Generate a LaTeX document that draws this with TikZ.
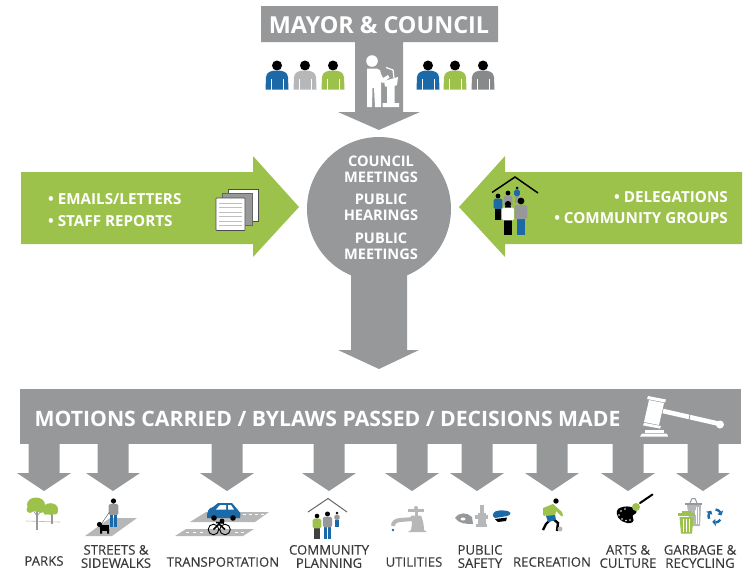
\documentclass[tikz,border=0pt]{standalone}
\usepackage{fontspec}
\setmainfont{Open Sans}
\newfontfamily\labfont[FakeBold=0.25]{Open Sans}
\definecolor{cgray}{HTML}{96989A}
\definecolor{clight}{HTML}{B5B7B9}
\definecolor{cgreen}{HTML}{9DC24B}
\definecolor{cblue}{HTML}{1C69A8}
\definecolor{cdark}{HTML}{3A3A3C}
\newcommand{\mybust}[2]{% x, color
  \fill[black] (#1,65.5) circle (5);
  \fill[#2] (#1-11.5,89.5) -- (#1-11,77) .. controls (#1-10.5,72) and (#1-6,70.5) .. (#1,70.5) .. controls (#1+6,70.5) and (#1+10.5,72) .. (#1+11,77) -- (#1+11.5,89.5) -- cycle;
  \draw[white,line width=.5] (#1-6,79) -- (#1-6,89.5) (#1+6,79) -- (#1+6,89.5);}
% full figure: x, head y, scale, shirt, legs
\newcommand{\fullfig}[5]{%
  \begin{scope}[shift={(#1,#2)},scale=#3]
  \fill[#5] (-3.7,15) rectangle (-.3,30);
  \fill[#5] (.3,15) rectangle (3.7,30);
  \fill[#4,rounded corners=1.5] (-5.6,3.4) rectangle (5.6,16);
  \fill[black] (0,0) circle (3);
  \end{scope}}
\newcommand{\dnarrow}[1]{%
  \fill[cgray] (#1-15.5,444) -- (#1-15.5,473) -- (#1-27,473) -- (#1,491) -- (#1+27,473) -- (#1+15.5,473) -- (#1+15.5,444) -- cycle;}
\tikzset{
  head/.style={font=\fontsize{23.4}{25}\selectfont\bfseries,text=white,inner sep=0},
  circ/.style={font=\fontsize{14.6}{16}\selectfont\bfseries,text=white,inner sep=0,align=center},
  bul/.style={font=\fontsize{15.2}{17}\selectfont\bfseries,text=white,inner sep=0},
  lab/.style={font=\labfont\fontsize{13.2}{13.2}\selectfont,text=cdark,inner sep=0,align=center},
}
\begin{document}
\begin{tikzpicture}[x=1pt,y=-1pt]
\useasboundingbox (0,0) rectangle (746,570);
% top T arrow
\fill[cgray] (261,6) -- (498,6) -- (498,42) -- (403,42) -- (403,112) -- (420,112) -- (379,130) -- (338,112) -- (355,112) -- (355,42) -- (261,42) -- cycle;
\node[head] (mayor) at (379,25) {MAYOR \& COUNCIL};
% people
\mybust{277}{cblue}
\mybust{305}{clight}
\mybust{333}{cgreen}
\mybust{428}{cblue}
\mybust{455}{cgreen}
\mybust{483}{cgray!90!black}
% speaker
\fill[white] (372,61) circle (5.8);
\fill[white] (367,68.5) -- (377,68.5) .. controls (380,69) and (381,71) .. (381,74) -- (383,78) -- (388,75) -- (389.5,77.5) -- (383,83) -- (381,82) -- (381,107) -- (375,107) -- (374,88) -- (372.5,88) -- (372,107) -- (367,107) -- cycle;
\fill[white] (384,81) -- (398,77) -- (397,85) -- (394.5,86) -- (394.5,103) -- (399,103) -- (399,107) -- (382.5,107) -- (382.5,103) -- (387,103) -- (387,86.5) -- (385,86.5) -- cycle;
\draw[white,line width=1.2] (386,67.5) -- (393,70) -- (394,78);
% circle and lower arrow
\fill[cgray] (379,209) circle (72);
\fill[cgray] (351,270) -- (407,270) -- (407,350) -- (419,350) -- (379,369) -- (338,350) -- (351,350) -- cycle;
\node[circ] (c1) at (381,169) {COUNCIL\\MEETINGS};
\node[circ] (c2) at (381,207) {PUBLIC\\HEARINGS};
\node[circ] (c3) at (381,246) {PUBLIC\\MEETINGS};
% left arrow
\fill[cgreen] (21,172) -- (253,172) -- (253,156) -- (299,207) -- (253,257) -- (253,244) -- (21,244) -- cycle;
\node[bul,anchor=west] (l1) at (48,199) {• EMAILS/LETTERS};
\node[bul,anchor=west] (l2) at (48,221) {• STAFF REPORTS};
% documents
\fill[white,draw=black!70,line width=.7] (228,189) rectangle (258,221);
\fill[cgray,draw=black!60,line width=.5] (222,193.5) rectangle (252,225.5);
\fill[white,draw=black!70,line width=.7,rounded corners=.6] (216,198) rectangle (245,230.5);
\foreach \yy in {203,207.5,212,216.5,221,225.5}
  \draw[black!25,line width=1] (219,\yy) -- (242,\yy);
% right arrow
\fill[cgreen] (742,172) -- (505,172) -- (505,156) -- (459,207) -- (505,257) -- (505,244) -- (742,244) -- cycle;
\node[bul,anchor=east] (r1) at (728,197) {• DELEGATIONS};
\node[bul,anchor=east] (r2) at (728,218) {• COMMUNITY GROUPS};
% house people
\draw[black,line width=1.5,line join=miter] (492,192.5) -- (515,177) -- (538,193);
\fullfig{517}{188}{.5}{cblue}{cgray}
\fullfig{508}{193}{.8}{cgray}{black}
\fullfig{498}{196}{.8}{cblue}{black}
\fullfig{508}{204}{1.03}{white}{black}
\fullfig{521}{201}{1.13}{cgray}{cblue}
% band
\fill[cgray] (20,389) rectangle (741,444);
\node[font=\fontsize{21.2}{23}\selectfont\bfseries,text=white,inner sep=0] (band) at (327.5,419) {MOTIONS CARRIED / BYLAWS PASSED / DECISIONS MADE};
% gavel
\fill[white] (649,400) -- (664,403) -- (659,425) -- (644,422) -- cycle;
\fill[white] (648,396) -- (666,399.5) -- (665,402.5) -- (647,399) -- cycle;
\fill[white] (644,422.8) -- (661,426) -- (660,428.6) -- (643,425.4) -- cycle;
\draw[white,line width=4.6] (663,411) -- (720,424);
\fill[white] (720,424.5) circle (4);
\draw[cgray,line width=.8] (690,414) -- (689,420.5);
\fill[white] (645,429.8) -- (664,429.8) -- (664,432.6) -- (645,432.6) -- cycle;
\fill[white] (642,433.6) -- (667,433.6) -- (668,436.5) -- (640,436.5) -- cycle;
% down arrows
\foreach \ax in {44,113,227,329,412,477,552,628,703} {\dnarrow{\ax}}
% parks
\draw[cgray!70,line width=.6] (26,521) -- (60,522);
\fill[cgray] (36,508) rectangle (38,530);
\fill[cgray] (51,510) rectangle (53,524);
\draw[cgray,line width=.7] (37,516) -- (33,510) (37,516) -- (42,510);
\fill[cgreen] (36,504.5) ellipse (9 and 7);
\fill[cgreen] (30,509.5) circle (3.5);
\fill[cgreen] (41,509) circle (4);
\fill[cgreen] (50.5,509) ellipse (7.5 and 5.8);
\fill[cgreen] (55,511.5) circle (3);
\fill[cgreen] (46,512) circle (2.8);
% streets
\fill[clight] (85,536) -- (110,518) -- (137,518) -- (112,536) -- cycle;
\fullfig{113.5}{501}{.87}{cgray}{cblue}
\draw[black!70,line width=.4] (109.5,512) -- (102,523);
\fill[black] (100,525) rectangle (109,530.5);
\fill[black] (100,529) rectangle (102,533.5) (107,529) rectangle (109,533.5);
\fill[black] (99.5,524.5) circle (2.6);
% transportation
\fill[clight] (190,522) -- (206,512) -- (269,512) -- (255,522) -- cycle;
\fill[clight] (175,536) -- (186,529) -- (254,529) -- (243,536) -- cycle;
\foreach \dx in {243,249,255,261} \draw[white,line width=.7] (\dx,514.5) -- (\dx+3,514.5);
\foreach \dx in {186,193,200,235,241} \draw[white,line width=.7] (\dx,532.5) -- (\dx+3,532.5);
\fill[cblue] (207,518) .. controls (207,512) and (208,508) .. (213,507) -- (218,503) -- (232,503) -- (238,510) .. controls (240,511) and (241,514) .. (240,518) -- cycle;
\fill[white] (220,505) -- (226,505) -- (226,509.5) -- (216,509.5) -- cycle;
\fill[white] (228,505) -- (231,505) -- (234,509.5) -- (228,509.5) -- cycle;
\fill[black] (214,518) circle (2.8) (233,518) circle (2.8);
\draw[black,line width=.9] (213.5,529.5) circle (5.3) (225,529.5) circle (5.3);
\draw[black,line width=1.6] (213.5,529.5) -- (219,524) -- (225,529.5) (216,522.5) -- (224,523);
\fill[black] (222,521) circle (2.4);
% community planning
\draw[black!60,line width=1] (308,512) -- (328,498.5) -- (347,512);
\fullfig{337}{513}{.45}{cgray}{cblue}
\fullfig{317}{516}{.77}{cgreen}{black!75}
\fullfig{327.5}{514}{.83}{cgray}{cblue}
% utilities
\draw[clight,line width=4] (393,526) .. controls (393,522) and (396,520.5) .. (400,520) -- (413,519);
\fill[clight] (411,515.5) -- (421,515.5) .. controls (423,520) and (424,526) .. (424,530) -- (427,532) -- (408,532) -- (411,530) -- (412,524) -- cycle;
\fill[clight] (414.5,508) rectangle (417.5,516);
\fill[clight] (408,509) rectangle (424,512);
\fill[clight] (416,508) circle (2);
\fill[cblue] (393,530) circle (1.3);
% public safety
\fill[cgray] (455,518) .. controls (459,512) and (467,512) .. (472,517) -- (473,524) .. controls (467,524) and (459,524) .. (455,518) -- cycle;
\fill[white] (463,519) ellipse (2.5 and 1.5);
\fill[clight] (476,524) rectangle (487,527);
\fill[clight] (477.5,513) rectangle (485.5,525);
\fill[clight] (479.5,505) rectangle (483.5,513);
\fill[clight] (475,515) rectangle (488,519);
\fill[cblue] (493,516) .. controls (492,511) and (498,510) .. (504,510.5) .. controls (511,511) and (513,514) .. (507,516) -- (495,518) -- cycle;
\fill[black] (495,519) -- (507,517.5) -- (506,521) -- (498,522) -- cycle;
% recreation
\fill[black] (556,501) circle (2.7);
\draw[black,line width=2.4] (552,518) -- (546,524) -- (543,530) (552,518) -- (558,523) -- (557,531);
\fill[cgreen] (543,508) -- (553,504) -- (562,512) -- (563,516) -- (561,516) -- (556,511) -- (555,516) -- (546,517) -- (545,512) -- (545,516) -- (543,515) -- cycle;
\fill[cblue] (546,516) -- (555,515) -- (556,520) -- (548,522) -- cycle;
\fill[clight] (560,529) circle (2.5);
% arts
\fill[black] (618,509) .. controls (625,504) and (637,507) .. (636.5,512) .. controls (636,515) and (631,514) .. (633,518) .. controls (635,521) and (632,524) .. (627,523) .. controls (620,522) and (614,515) .. (618,509) -- cycle;
\foreach \px/\py in {621/511,625/509,619/515,622/519,626/520.5,630/520} \fill[white] (\px,\py) circle (.9);
\fill[cgreen] (636,507) circle (4);
\draw[black,line width=2,line cap=round] (640,503) -- (652.5,494.5);
% garbage
\fill[cgray] (685,503) rectangle (702,505);
\fill[clight] (687,505) -- (701,505) -- (700,526) -- (690,526) -- cycle;
\draw[cgray,line width=1] (692,498.5) -- (695,498.5) (690,503) -- (692,498.5) (697,503) -- (695,498.5);
\foreach \gx in {696,698.5} \draw[white,line width=.5] (\gx,507) -- (\gx,524);
\fill[white] (695,510) rectangle (697,515);
\fill[cgreen] (678,513) rectangle (695,516);
\fill[cgreen] (682,510.5) rectangle (691,513);
\fill[cgreen] (679.5,517) -- (693.5,517) -- (692,533.5) -- (681,533.5) -- cycle;
\foreach \gx in {683.5,686.5,689.5} \draw[white,line width=.7] (\gx,519) -- (\gx,532);
\begin{scope}[shift={(715,516)}]
\foreach \a in {-90,30,150} {
  \draw[cblue,line width=2.4] (\a+5:6.5) arc[start angle=\a+5,end angle=\a+55,radius=6.5];
  \fill[cblue] (\a+55:3) -- (\a+55:10) -- (\a+85:6.5) -- cycle;
}
\end{scope}
% labels
\node[lab] (n1) at (44,561) {PARKS};
\node[lab] (n2) at (116,556.5) {STREETS \&\\SIDEWALKS};
\node[lab] (n3) at (223,562) {TRANSPORTATION};
\node[lab] (n4) at (329,556.5) {COMMUNITY\\PLANNING};
\node[lab] (n5) at (414,562) {UTILITIES};
\node[lab] (n6) at (480,556.5) {PUBLIC\\SAFETY};
\node[lab] (n7) at (552,562) {RECREATION};
\node[lab] (n8) at (628,556.5) {ARTS \&\\CULTURE};
\node[lab] (n9) at (700,556.5) {GARBAGE \&\\RECYCLING};
\end{tikzpicture}
\end{document}
